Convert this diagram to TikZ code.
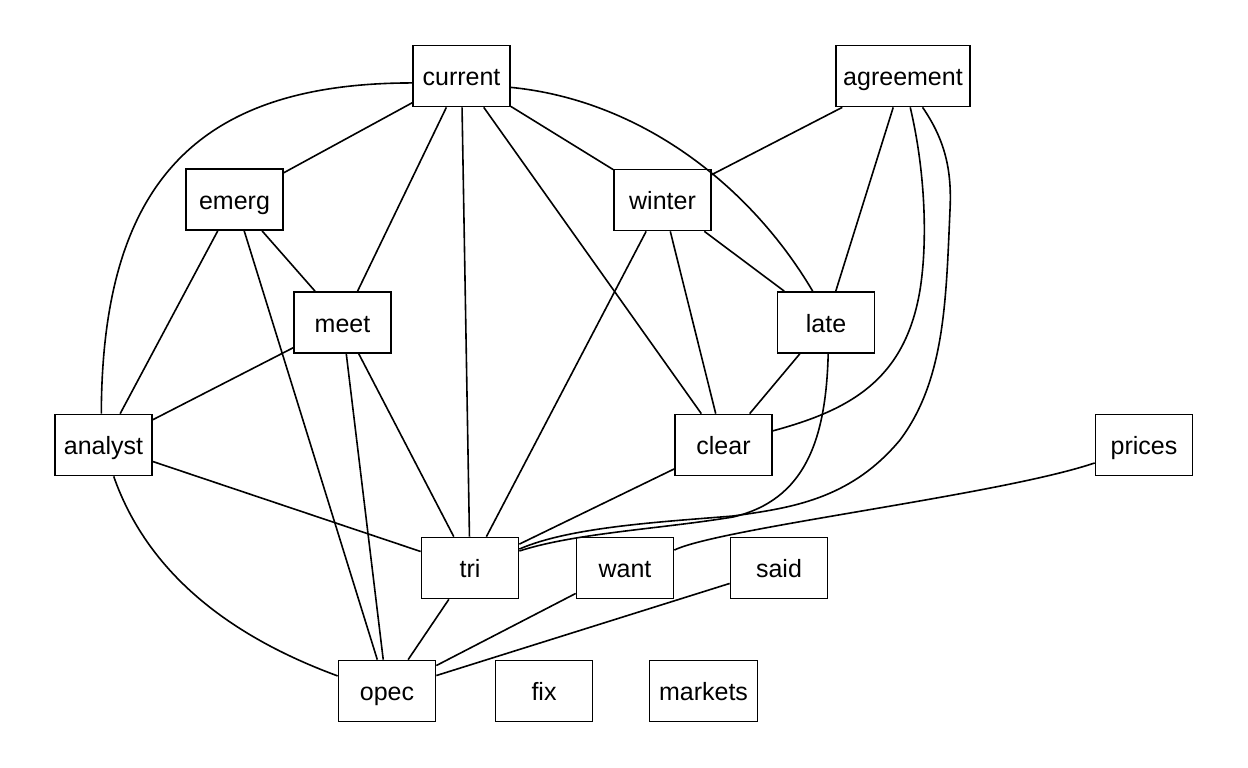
\documentclass[tikz,border=0pt]{standalone}
\usepackage{fontspec}
\setmainfont{Liberation Sans}
\begin{document}
\begin{tikzpicture}[x=1pt,y=-1pt,
  box/.style={draw, line width=1.7pt, minimum width=97pt, minimum height=61pt, inner sep=0pt, text height=19pt, text depth=0pt, font=\fontsize{25}{30}\selectfont},
  edge/.style={line width=1.6pt}]
\useasboundingbox (0,0) rectangle (1248,768);
% nodes
\node[box] (current) at (461.5,76) {current};
\node[box, minimum width=134pt] (agreement) at (903,76) {agreement};
\node[box] (emerg) at (234.5,199.5) {emerg};
\node[box] (winter) at (662.5,200) {winter};
\node[box] (meet) at (342.5,322.5) {meet};
\node[box] (late) at (826,322.5) {late};
\node[box] (analyst) at (103.5,445) {analyst};
\node[box] (clear) at (723.5,445) {clear};
\node[box] (prices) at (1144,445) {prices};
\node[box] (tri) at (470,568) {tri};
\node[box] (want) at (625,568) {want};
\node[box] (said) at (779,568) {said};
\node[box] (opec) at (387,691) {opec};
\node[box] (fix) at (544,691) {fix};
\node[box, minimum width=108pt] (markets) at (703.5,691) {markets};
% straight edges
\draw[edge] (current) -- (emerg);
\draw[edge] (current) -- (meet);
\draw[edge] (current) -- (tri);
\draw[edge] (current) -- (clear);
\draw[edge] (current) -- (winter);
\draw[edge] (agreement) -- (winter);
\draw[edge] (agreement) -- (late);
\draw[edge] (emerg) -- (analyst);
\draw[edge] (emerg) -- (meet);
\draw[edge] (emerg) -- (opec);
\draw[edge] (winter) -- (tri);
\draw[edge] (winter) -- (clear);
\draw[edge] (winter) -- (late);
\draw[edge] (meet) -- (analyst);
\draw[edge] (meet) -- (opec);
\draw[edge] (meet) -- (tri);
\draw[edge] (late) -- (clear);
\draw[edge] (analyst) -- (tri);
\draw[edge] (clear) -- (tri);
\draw[edge] (tri) -- (opec);
\draw[edge] (want) -- (opec);
\draw[edge] (said) -- (opec);
% curved edges
\draw[edge] (current.188) .. controls (200,83) and (102,180) .. (analyst.94);
\draw[edge] (current.-13) .. controls (640,100) and (750,185) .. (late.113);
\draw[edge] (agreement.-77) .. controls (925,170) and (928,240) .. (920,290)
  .. controls (905,380) and (850,410) .. (clear.16);
\draw[edge] (agreement.-58) .. controls (945,140) and (952,170) .. (950,210)
  .. controls (946,300) and (945,380) .. (900,440)
  .. controls (850,500) and (790,508) .. (733,516)
  .. controls (660,522) and (570,527) .. (tri.21);
\draw[edge] (late.-86) .. controls (826,440) and (805,500) .. (733,517)
  .. controls (660,529) and (575,533) .. (tri.19);
\draw[edge] (analyst.-72) .. controls (150,580) and (240,640) .. (opec.163);
\draw[edge] (prices.200) .. controls (1000,495) and (720,528) .. (want.20);
\end{tikzpicture}
\end{document}
